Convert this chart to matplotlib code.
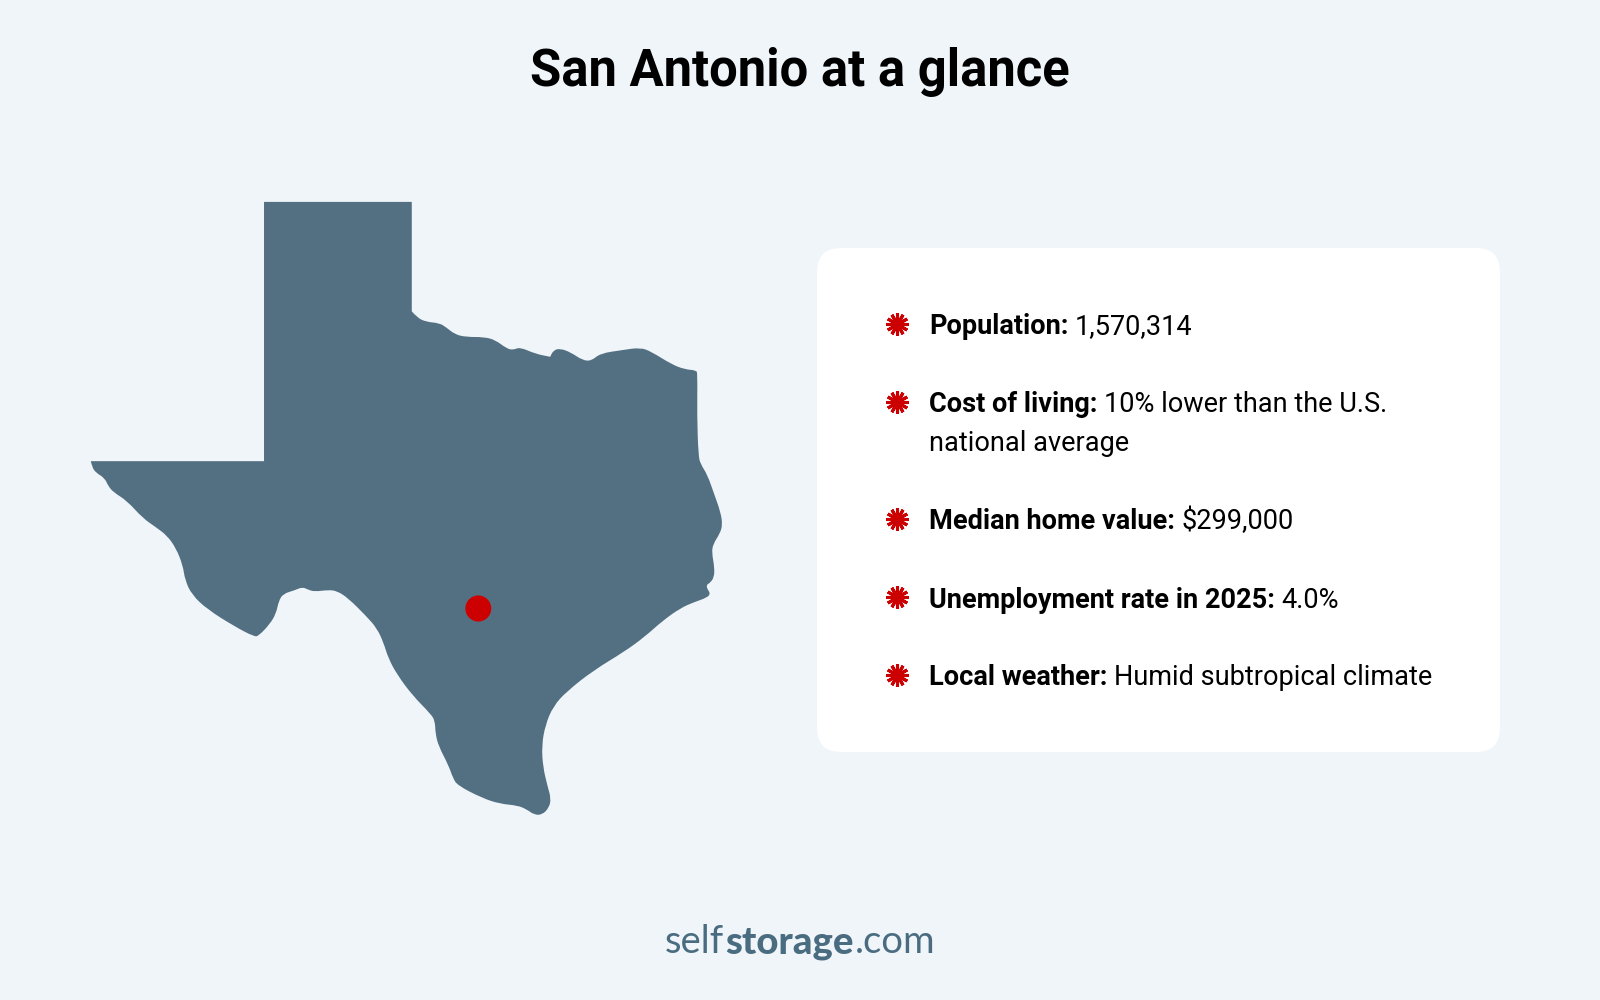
import matplotlib
matplotlib.use("Agg")
import matplotlib.pyplot as plt
from matplotlib.patches import FancyBboxPatch, PathPatch, Ellipse
from matplotlib.path import Path

BG = "#F0F5FA"
MAP_COLOR = "#537082"
RED = "#CC0000"
LOGO_COLOR = "#4A6C80"

title = "San Antonio at a glance"

# rows of the fact card: bold label, plain value
labels = ["Population:", "Cost of living:", "Median home value:",
          "Unemployment rate in 2025:", "Local weather:"]
values = ["1,570,314", "10% lower than the U.S.", "$299,000",
          "4.0%", "Humid subtropical climate"]
second_line = {1: "national average"}
row_y = [323.5, 402, 518.5, 597, 674.5]

# Texas outline (map units)
# the first two points and the last one are the straight panhandle corners
outline_x = [457, 788, 788, 800, 820, 850, 865, 885, 910, 950, 975, 1000, 1015, 1030, 1065, 1098, 1098,
             1105, 1120, 1145, 1170, 1190, 1210, 1260, 1300, 1325, 1370, 1400, 1425, 1428, 1427,
             1430, 1435, 1450, 1465, 1480, 1484, 1478, 1463, 1460, 1466, 1465, 1455, 1448, 1450,
             1457, 1450, 1420, 1390, 1350, 1310, 1265, 1195, 1135, 1105, 1087, 1079, 1082, 1092,
             1100, 1095, 1080, 1062, 1045, 1025, 985, 945, 890, 880, 870, 848, 841, 840, 830, 790,
             755, 735, 725, 710, 685, 645, 620, 600, 570, 555, 543, 525, 500, 490, 484, 470, 445,
             435, 390, 330, 295, 280, 275, 260, 240, 215, 185, 150, 120, 108, 100, 80, 72, 69, 457]
outline_y = [52, 52, 312, 327, 337, 340, 350, 367, 373, 373, 380, 400, 404, 397, 413, 420, 420,
             405, 400, 410, 428, 430, 412, 404, 398, 408, 438, 450, 452, 460, 560,
             655, 675, 700, 745, 790, 820, 840, 865, 885, 920, 945, 958, 962, 972,
             982, 992, 1003, 1017, 1047, 1085, 1120, 1165, 1215, 1250, 1295, 1345, 1395, 1440,
             1470, 1492, 1508, 1508, 1495, 1486, 1482, 1468, 1438, 1420, 1390, 1345, 1315, 1285, 1268, 1225,
             1175, 1135, 1100, 1065, 1035, 993, 976, 974, 978, 973, 967, 975, 983, 1000, 1030, 1055, 1083,
             1085, 1060, 1020, 985, 950, 915, 875, 845, 825, 803, 762, 742, 727, 708, 695, 682, 668, 668]
city_x = 937
city_y = 1018


def outline_path(xs, ys):
    # straight panhandle, quadratic curves through the midpoints for the rest
    pts = list(zip(xs, ys))
    verts = [pts[0], pts[1], pts[2]]
    codes = [Path.MOVETO, Path.LINETO, Path.LINETO]
    curved = pts[2:-1]
    for j in range(1, len(curved) - 1):
        mid = ((curved[j][0] + curved[j + 1][0]) / 2, (curved[j][1] + curved[j + 1][1]) / 2)
        if j == len(curved) - 2:
            mid = curved[j + 1]
        verts += [curved[j], mid]
        codes += [Path.CURVE3, Path.CURVE3]
    verts += [pts[-1], pts[0]]
    codes += [Path.LINETO, Path.CLOSEPOLY]
    return Path(verts, codes)


plt.rcParams["font.family"] = ["Roboto", "DejaVu Sans"]

fig = plt.figure(figsize=(16, 10), dpi=100, facecolor=BG)
ax = fig.add_axes([0, 0, 1, 1])
ax.set_xlim(0, 1600)
ax.set_ylim(1000, 0)
ax.axis("off")

# map gets its own axes
ax_map = fig.add_axes([60 / 1600, 1 - 840 / 1000, 700 / 1600, 660 / 1000])
ax_map.set_xlim(0, 1568)
ax_map.set_ylim(1568, 0)
ax_map.axis("off")
ax_map.add_patch(PathPatch(outline_path(outline_x, outline_y), fc=MAP_COLOR, ec="none"))
ax_map.add_patch(Ellipse((city_x, city_y), 58, 62, fc=RED, ec="none"))

ax.text(800, 72, title, ha="center", va="center", fontsize=36.5, fontweight="bold", color="black")

# white card
ax.add_patch(FancyBboxPatch((817 + 24, 248 + 24), 683 - 48, 504 - 48,
                            boxstyle="round,pad=24,rounding_size=24", fc="white", ec="none"))

renderer = fig.canvas.get_renderer()
TEXT_X = 929
FONT = 19.5
for i in range(len(labels)):
    y = row_y[i]
    ax.plot([897], [y], marker=(12, 2, 0), ms=16, mew=2.2, color=RED, ls="none")
    ax.plot([897], [y], marker="o", ms=8, color=RED, mew=0, ls="none")
    t = ax.text(TEXT_X, y, labels[i], ha="left", va="center_baseline", fontsize=FONT, fontweight="bold", color="black")
    end = t.get_window_extent(renderer).x1
    ax.text(end + 6.5, y, values[i], ha="left", va="center_baseline", fontsize=FONT, color="black")
    if i in second_line:
        ax.text(TEXT_X, y + 38.5, second_line[i], ha="left", va="center_baseline", fontsize=FONT, color="black")

# logo: three weights next to each other
x = 665
for part, weight in [("self", "normal"), ("storage", "black"), (".com", "normal")]:
    t = ax.text(x, 953, part, ha="left", va="baseline", fontsize=27.5, family="Lato", fontweight=weight, color=LOGO_COLOR)
    x = t.get_window_extent(renderer).x1 + 1

fig.savefig("out.png", dpi=100, facecolor=BG)
